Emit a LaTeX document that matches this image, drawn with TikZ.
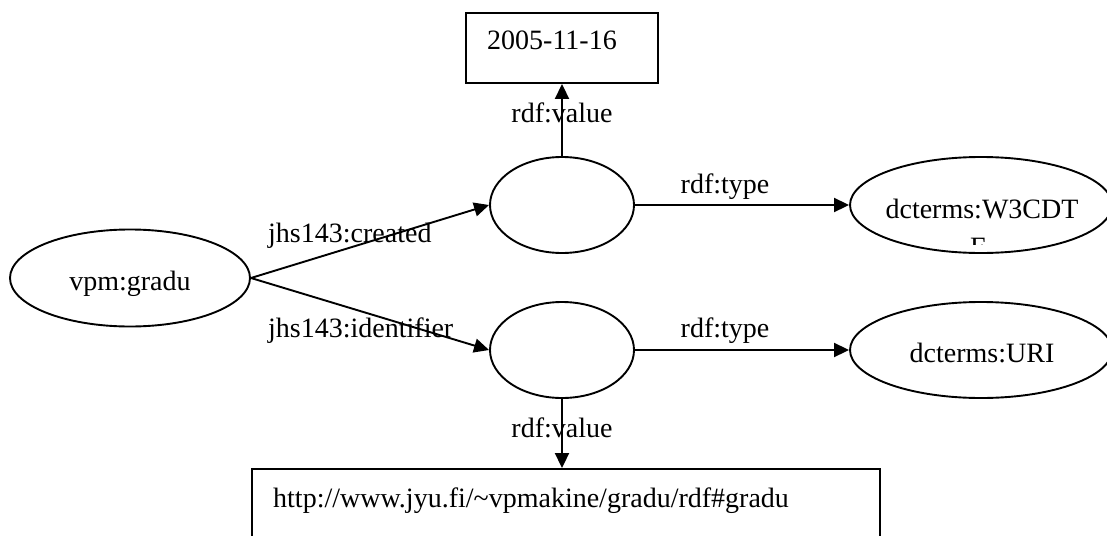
\documentclass[tikz,border=0pt]{standalone}
\usepackage{fontspec}
\setmainfont{Liberation Serif}
\usetikzlibrary{shapes.geometric,arrows.meta}

\begin{document}
\begin{tikzpicture}[x=1pt,y=-1pt,
  every node/.style={font=\fontsize{28}{32}\selectfont, inner sep=0pt},
  res/.style={draw, ellipse, line width=1.9pt, inner sep=0pt},
  lit/.style={draw, rectangle, line width=1.9pt, inner sep=0pt},
  edge/.style={line width=1.9pt, -{Triangle[length=15pt,width=14pt]}},
  lbl/.style={anchor=base}]
  % canvas
  \clip (0,0) rectangle (1107,535);
  \fill[white] (0,0) rectangle (1107,535);

  % resource nodes
  \node[res, minimum width=240, minimum height=97] (gradu) at (130,278) {};
  \node[res, minimum width=144, minimum height=96] (bn1) at (562,205) {};
  \node[res, minimum width=144, minimum height=96] (bn2) at (562,350) {};
  \node[res, minimum width=262, minimum height=96] (w3c) at (981,205) {};
  \node[res, minimum width=262, minimum height=96] (uri) at (981,350) {};

  % literal boxes
  \node[lit, minimum width=192, minimum height=70] (date) at (562,48) {};
  \node[lit, minimum width=628, minimum height=120] (url) at (566,529) {};

  % texts inside the shapes
  \node[lbl] (tgradu) at (130,290) {vpm:gradu};
  \node[lbl] (tw3c) at (982,218) {dcterms:W3CDT};
  \begin{scope}
    \clip (850,150) rectangle (1107,244);
    \node[lbl] (tw3cb) at (978,256) {F};
  \end{scope}
  \node[lbl] (turi) at (982,362) {dcterms:URI};
  \node[anchor=base west] (tdate) at (487,50) {2005-11-16};
  \node[anchor=base west] (turl) at (273,507)
    {http://www.jyu.fi/\textasciitilde vpmakine/gradu/rdf\#gradu};

  % connectors
  \draw[edge] (gradu.east) -- (bn1.west);
  \draw[edge] (gradu.east) -- (bn2.west);
  \draw[edge] (bn1.east) -- (w3c.west);
  \draw[edge] (bn2.east) -- (uri.west);
  \draw[edge] (bn1.north) -- (date.south);
  \draw[edge] (bn2.south) -- (bn2.south |- url.north);

  % property labels
  \node[anchor=base west] (lcreated) at (268,242) {jhs143:created};
  \node[anchor=base west] (lident) at (268,337) {jhs143:identifier};
  \node[lbl] (ltype1) at (725,193) {rdf:type};
  \node[lbl] (ltype2) at (725,337) {rdf:type};
  \node[lbl] (lval1) at (562,122) {rdf:value};
  \node[lbl] (lval2) at (562,437) {rdf:value};
\end{tikzpicture}
\end{document}
